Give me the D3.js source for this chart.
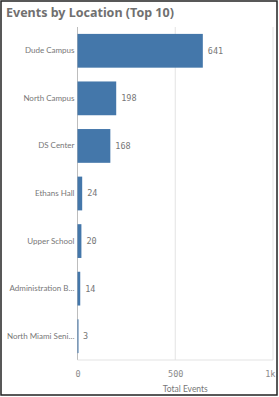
<!DOCTYPE html>
<html>
<head>
<meta charset="utf-8">
<script src="https://cdn.jsdelivr.net/npm/d3@7"></script>
<style>
  body { margin: 0; background: #fff; }
  text { font-family: Lato, "Noto Sans", sans-serif; }
</style>
</head>
<body>
<svg id="chart" width="279" height="397"></svg>
<script>
(function () {
    const width = 279, height = 397

    // data
    const locations = ["Dude Campus", "North Campus", "DS Center", "Ethans Hall",
        "Upper School", "Administration B\u2026", "North Miami Seni\u2026"]
    const events = [641, 198, 168, 24, 20, 14, 3]
    const xTicks = [0, 500, 1000]
    const xTickLabels = ["0", "500", "1k"]

    const data = locations.map((d, i) => ({ name: d, value: events[i] }))

    const svg = d3.select("#chart")

    // outer frame
    svg.append("rect")
        .attr("x", 1).attr("y", 1)
        .attr("width", width - 3).attr("height", height - 3)
        .attr("fill", "none")
        .attr("stroke", "#222")
        .attr("stroke-width", 1.5)

    svg.append("text")
        .attr("x", 6).attr("y", 17)
        .attr("font-size", 12.5)
        .attr("font-weight", "bold")
        .attr("fill", "#707070")
        .style("font-family", "'Noto Sans', sans-serif")
        .text("Events by Location (Top 10)")

    const left = 77.5, right = 273, top = 27, bottom = 360

    const x = d3.scaleLinear()
        .domain([0, 1000])
        .range([left, right])

    const y = d3.scaleBand()
        .domain(locations)
        .range([top, bottom])
        .paddingInner(0.29)
        .paddingOuter(0.145)

    // gridlines
    svg.append("g")
        .selectAll("line")
        .data(xTicks.slice(1))
        .enter()
        .append("line")
        .attr("x1", d => x(d)).attr("x2", d => x(d))
        .attr("y1", top).attr("y2", bottom)
        .attr("stroke", "#e3e3e3")
        .attr("stroke-width", 1)

    // axis lines
    svg.append("line")
        .attr("x1", left).attr("x2", left)
        .attr("y1", top).attr("y2", bottom)
        .attr("stroke", "#bdbdbd")
    svg.append("line")
        .attr("x1", left).attr("x2", right)
        .attr("y1", bottom).attr("y2", bottom)
        .attr("stroke", "#e3e3e3")

    // x axis ticks
    const xAxis = svg.append("g")
        .attr("transform", `translate(0,${bottom})`)
        .call(d3.axisBottom(x).tickValues(xTicks).tickSize(0).tickPadding(11)
            .tickFormat((d, i) => xTickLabels[i]))
    xAxis.select(".domain").remove()
    xAxis.selectAll("text")
        .attr("font-size", 8.5)
        .attr("fill", "#8a8a8a")
        .style("font-family", "'DejaVu Sans Mono', monospace")
    xAxis.selectAll(".tick").filter((d, i) => i === xTicks.length - 1)
        .select("text").attr("text-anchor", "end").attr("dx", 2)

    svg.append("text")
        .attr("x", (left + right) / 2 + 10).attr("y", 392)
        .attr("text-anchor", "middle")
        .attr("font-size", 8.5)
        .attr("fill", "#777")
        .text("Total Events")

    // y axis labels
    const yAxis = svg.append("g")
        .attr("transform", `translate(${left},0)`)
        .call(d3.axisLeft(y).tickSize(0).tickPadding(3))
    yAxis.select(".domain").remove()
    yAxis.selectAll("text")
        .attr("font-size", 8)
        .attr("fill", "#777")
        .style("font-family", "Lato, sans-serif")

    // bars
    svg.append("g")
        .selectAll("rect")
        .data(data)
        .enter()
        .append("rect")
        .attr("x", x(0))
        .attr("y", d => y(d.name))
        .attr("width", d => Math.max(x(d.value) - x(0), 1))
        .attr("height", y.bandwidth())
        .attr("fill", "#4477aa")

    // value labels
    svg.append("g")
        .selectAll("text")
        .data(data)
        .enter()
        .append("text")
        .attr("x", d => x(d.value) + 5)
        .attr("y", d => y(d.name) + y.bandwidth() / 2)
        .attr("dy", "0.35em")
        .attr("font-size", 8.5)
        .attr("fill", "#777")
        .style("font-family", "'DejaVu Sans Mono', monospace")
        .text(d => d.value)
})();
</script>
</body>
</html>
